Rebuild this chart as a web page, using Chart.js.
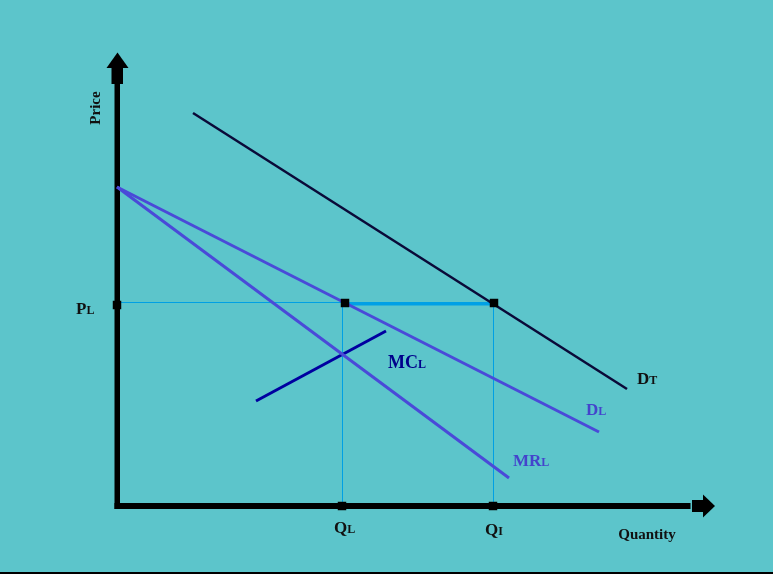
<!DOCTYPE html>
<html>
<head>
<meta charset="utf-8">
<script src="https://cdn.jsdelivr.net/npm/chart.js@4.4.0/dist/chart.umd.min.js"></script>
<style>
  body { margin: 0; background: #5cc5cb; }
  canvas { display: block; }
</style>
</head>
<body>
<canvas id="leaderChart" width="773" height="574"></canvas>
<script>
// Quantity / price values (origin at the axes corner)
const totalDemand = [{x: 76, y: 393}, {x: 510, y: 117}];
const leaderDemand = [{x: 0, y: 319}, {x: 482, y: 74}];
const leaderMR = [{x: 0, y: 319}, {x: 392, y: 28}];
const leaderMC = [{x: 139, y: 105}, {x: 269, y: 175}];
const priceLine = [{x: 0, y: 203.5}, {x: 376, y: 203.5}];
const gapLine = [{x: 230, y: 202}, {x: 374, y: 202}];
const qLeaderLine = [{x: 225.5, y: 0}, {x: 225.5, y: 203}];
const qIndustryLine = [{x: 376.5, y: 0}, {x: 376.5, y: 203}];
const markers = [{x: 0, y: 201}, {x: 228, y: 203}, {x: 377, y: 203}, {x: 225, y: 0}, {x: 376, y: 0}];

// labels: [main, subscript, x, y, colour, size]
const curveLabels = [
    ['P', 'L', -41, 192, '#111111', 17],
    ['MC', 'L', 271, 138, '#00008b', 18],
    ['D', 'L', 469, 91, '#4444cc', 17],
    ['D', 'T', 520, 122, '#111111', 17],
    ['MR', 'L', 396, 40, '#4444cc', 17],
    ['Q', 'L', 217, -27, '#111111', 17],
    ['Q', 'I', 368, -29, '#111111', 17]
];

function seg(data, color, width, order) {
    return {
        data: data,
        showLine: true,
        borderColor: color,
        borderWidth: width,
        pointRadius: 0,
        fill: false,
        order: order
    };
}

const diagramPlugin = {
    id: 'diagram',
    beforeDatasetsDraw(chart) {
        const c = chart.ctx;
        const xs = chart.scales.x, ys = chart.scales.y;
        const px = v => xs.getPixelForValue(v);
        const py = v => ys.getPixelForValue(v);
        const ox = px(0), oy = py(0);
        c.save();
        c.fillStyle = '#000';
        // vertical axis with arrow
        c.fillRect(ox - 2.5, py(424), 5.5, oy - py(424) + 3);
        c.fillRect(ox - 5.5, py(438), 11.5, 16);
        c.beginPath();
        c.moveTo(ox - 10.5, py(438));
        c.lineTo(ox + 0.5, py(453.5));
        c.lineTo(ox + 11.5, py(438));
        c.closePath();
        c.fill();
        // horizontal axis with arrow
        c.fillRect(ox - 2.5, oy - 3, px(576) - ox, 6);
        c.fillRect(px(575), oy - 6, 11.5, 12);
        c.beginPath();
        c.moveTo(px(586), oy - 11.5);
        c.lineTo(px(598), oy);
        c.lineTo(px(586), oy + 11.5);
        c.closePath();
        c.fill();
        // bottom border
        c.fillRect(0, 572, chart.width, 2);
        c.restore();
    },
    afterDatasetsDraw(chart) {
        const c = chart.ctx;
        const xs = chart.scales.x, ys = chart.scales.y;
        const px = v => xs.getPixelForValue(v);
        const py = v => ys.getPixelForValue(v);
        c.save();
        // axis titles
        c.fillStyle = '#111';
        c.font = 'bold 15px "Liberation Serif"';
        c.textAlign = 'center';
        c.fillText('Quantity', px(530), py(-33));
        c.save();
        c.translate(px(-21), py(398));
        c.rotate(-Math.PI / 2);
        c.textBaseline = 'middle';
        c.fillText('Price', 0, 0);
        c.restore();

        // curve labels with subscripts
        c.textAlign = 'left';
        c.textBaseline = 'alphabetic';
        curveLabels.forEach(([main, sub, x, y, col, size]) => {
            c.fillStyle = col;
            c.font = 'bold ' + size + 'px "Liberation Serif"';
            const w = c.measureText(main).width;
            c.fillText(main, px(x), py(y));
            c.font = 'bold 12px "Liberation Serif"';
            c.fillText(sub, px(x) + w, py(y));
        });
        c.restore();
    }
};

new Chart(document.getElementById('leaderChart'), {
    type: 'scatter',
    data: {
        datasets: [
            seg(priceLine, '#00a0e4', 1, 9),
            seg(qLeaderLine, '#00a0e4', 1, 9),
            seg(qIndustryLine, '#00a0e4', 1, 9),
            seg(gapLine, '#00a0e6', 3, 8),
            seg(totalDemand, '#0a0a38', 2.5, 5),
            seg(leaderDemand, '#4a4ad8', 3, 5),
            seg(leaderMR, '#4a4ad8', 3, 5),
            seg(leaderMC, '#0000a0', 3, 5),
            {
                data: markers,
                pointStyle: 'rect',
                pointRadius: 6,
                pointBackgroundColor: '#000',
                pointBorderColor: '#000',
                borderWidth: 0,
                order: 1
            }
        ]
    },
    options: {
        responsive: false,
        animation: false,
        layout: { padding: 0, autoPadding: false },
        plugins: {
            legend: { display: false },
            tooltip: { enabled: false }
        },
        scales: {
            x: { type: 'linear', min: -117, max: 656, display: false },
            y: { type: 'linear', min: -68, max: 506, display: false }
        }
    },
    plugins: [diagramPlugin]
});
</script>
</body>
</html>
